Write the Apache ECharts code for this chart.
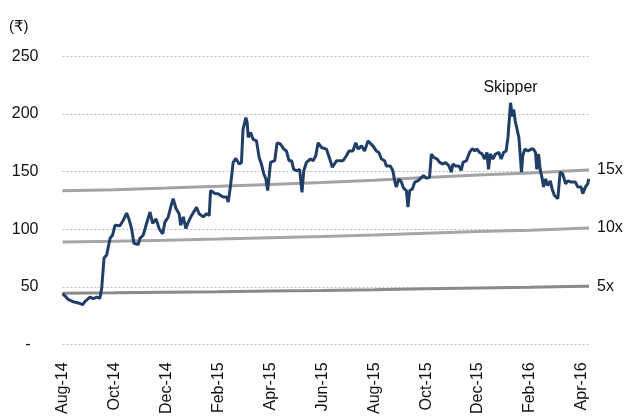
<!DOCTYPE html>
<html>
<head>
<meta charset="utf-8">
<script src="https://cdn.jsdelivr.net/npm/echarts@6/dist/echarts.min.js"></script>
<style>html,body{margin:0;padding:0;background:#fff}#c{width:625px;height:417px}</style>
</head>
<body>
<div id="c"></div>
<script>
// x positions are months elapsed since 1 Aug 2014
var tickLabels = ['Aug-14','Oct-14','Dec-14','Feb-15','Apr-15','Jun-15','Aug-15','Oct-15','Dec-15','Feb-16','Apr-16'];
var yTickLabels = {0:'-',50:'50',100:'100',150:'150',200:'200',250:'250'};

var priceMonths = [0,0.10,0.22,0.42,0.61,0.78,0.87,1.06,1.18,1.32,1.44,1.51,1.60,1.70,1.83,1.93,2.02,2.21,2.34,2.47,2.57,2.66,2.75,2.92,2.98,3.11,3.21,3.37,3.47,3.60,3.72,3.86,3.94,4.07,4.20,4.26,4.37,4.49,4.55,4.65,4.75,4.84,4.97,5.16,5.26,5.42,5.55,5.65,5.70,5.87,5.99,6.18,6.32,6.38,6.47,6.57,6.67,6.80,6.89,6.95,7.06,7.11,7.15,7.24,7.34,7.47,7.57,7.66,7.75,7.83,7.90,8.01,8.17,8.26,8.39,8.52,8.62,8.72,8.82,8.90,9.03,9.13,9.22,9.29,9.39,9.55,9.65,9.75,9.84,9.97,10.16,10.29,10.39,10.55,10.80,10.93,11.03,11.18,11.29,11.38,11.51,11.63,11.76,11.95,12.08,12.18,12.28,12.40,12.47,12.62,12.72,12.79,12.85,12.95,13.05,13.13,13.24,13.30,13.37,13.47,13.56,13.68,13.82,13.90,14.01,14.13,14.20,14.29,14.42,14.52,14.65,14.75,14.88,14.97,15.03,15.13,15.26,15.35,15.42,15.55,15.67,15.78,15.87,15.95,16.06,16.16,16.25,16.34,16.40,16.47,16.57,16.67,16.80,16.89,16.98,17.08,17.15,17.21,17.25,17.32,17.37,17.43,17.49,17.57,17.62,17.67,17.72,17.80,17.92,18.05,18.13,18.21,18.26,18.33,18.39,18.47,18.52,18.60,18.68,18.78,18.85,18.94,19.07,19.16,19.26,19.37,19.45,19.58,19.75,19.84,19.97,20.03,20.13,20.22,20.26];
var priceValues = [44,42,39,37,36,34.5,37.4,41,39.7,41,40,49,75,77.6,92,95,103.4,103,107.8,114,108,100.6,87.7,86.8,92,95,103,115,105,109,100.6,96,106,110.7,122,126.5,118,113.5,103.4,110.7,100.6,106,112,119,113.5,110.7,113.5,112,133.6,131,130.8,128,128,123.6,138,158,161.5,156.6,158,186.8,197,192.6,179.7,184,178,176.7,162.4,156.6,148,143.7,133.6,158,159.5,175,174,169.6,168,159.5,159.5,152,150.8,152,132,150.8,158,161,159.5,163.8,175,171,169.6,161,153.8,159.5,159.5,163.8,168,168,175,169.6,172.4,168,176.7,172.4,168,166.7,161,159.5,155,155,150.8,142,136.6,143.7,140.9,135.7,133.6,119.3,133.6,135,140.9,142,145,146.5,144.3,145,165.3,162.4,161,158,156.6,158,155,149.5,156.6,155,155,151,158,159.5,166.7,170,168,169.6,166.7,165.3,161,166.7,152,165.3,161,165.3,166.7,161,166.7,168,179.7,181,209.8,198,204,194,195.5,179.7,165.3,149.5,163.8,169.6,168,169.6,169.6,166.7,152,165.3,152,143.7,136.6,143.7,138,142,135,129.3,126.5,149.5,148,139.4,142,141,141,136.6,136.6,130.8,136.6,139.4,143.7];

// earnings per share used for the P/E bands
var epsMonths = [0,2,4,6,8,10,12,14,16,18,20,20.27];
var epsValues = [8.90,8.96,9.05,9.15,9.26,9.37,9.50,9.66,9.80,9.92,10.08,10.10];
var bandMultiples = [15,10,5];
var bandNames = ['15x','10x','5x'];

var FONT = 'Liberation Sans, Arial, DejaVu Sans, Noto Sans, sans-serif';

function pairs(xs, ys){ return xs.map(function(x,i){ return [x, ys[i]]; }); }

var bandColors = {'15x':'#a3a3a3','10x':'#a6a6a6','5x':'#8a8a8a'};
var series = bandMultiples.map(function(m, k){
  return {
    name: bandNames[k], type:'line', symbol:'none', silent:true,
    data: pairs(epsMonths, epsValues.map(function(e){ return +(e*m).toFixed(2); })),
    lineStyle:{color:bandColors[bandNames[k]], width:3},
    endLabel:{show:true, formatter:bandNames[k], color:'#111', fontSize:16, fontFamily:FONT, distance:8},
    z:2
  };
});
var peakIdx = priceValues.indexOf(Math.max.apply(null, priceValues));
series.push({
  name:'Skipper', type:'line', symbol:'none',
  data: pairs(priceMonths, priceValues),
  lineStyle:{color:'#213f66', width:3},
  markPoint:{symbol:'circle', symbolSize:0, silent:true,
    data:[{coord:[priceMonths[peakIdx], priceValues[peakIdx]]}],
    label:{show:true, formatter:'Skipper', position:'top', distance:7, color:'#111', fontSize:16, fontFamily:FONT}},
  z:3
});

var chart = echarts.init(document.getElementById('c'), null, {renderer:'canvas'});
chart.setOption({
  animation:false,
  backgroundColor:'#fff',
  grid:{left:62.5, right:36, top:56.5, bottom:70.5},
  graphic:[{type:'text', left:9, top:19, style:{text:'(₹)', fontSize:15, fontFamily:FONT, fill:'#111'}}],
  xAxis:{type:'value', min:0, max:20.27, interval:2,
    axisLine:{show:false}, axisTick:{show:false}, splitLine:{show:false},
    axisLabel:{rotate:90, margin:18, fontSize:16, fontFamily:FONT, color:'#111', showMaxLabel:false,
      formatter:function(v){ var i=Math.round(v/2); return (Math.abs(v-i*2)<1e-6 && tickLabels[i]) ? tickLabels[i] : ''; }}
  },
  yAxis:{type:'value', min:0, max:250, interval:50,
    axisLine:{show:false}, axisTick:{show:false},
    splitLine:{show:true, lineStyle:{color:'#bdbdbd', type:[2,2], width:1}},
    axisLabel:{margin:24, fontSize:16, fontFamily:FONT, color:'#111',
      formatter:function(v){ var t = yTickLabels[v]; if (t === undefined) return ''; return t === '-' ? '{d|-}' : t; },
      rich:{d:{fontSize:16, fontFamily:FONT, color:'#111', padding:[0,8,0,0]}}}
  },
  series: series
});
</script>
</body>
</html>
